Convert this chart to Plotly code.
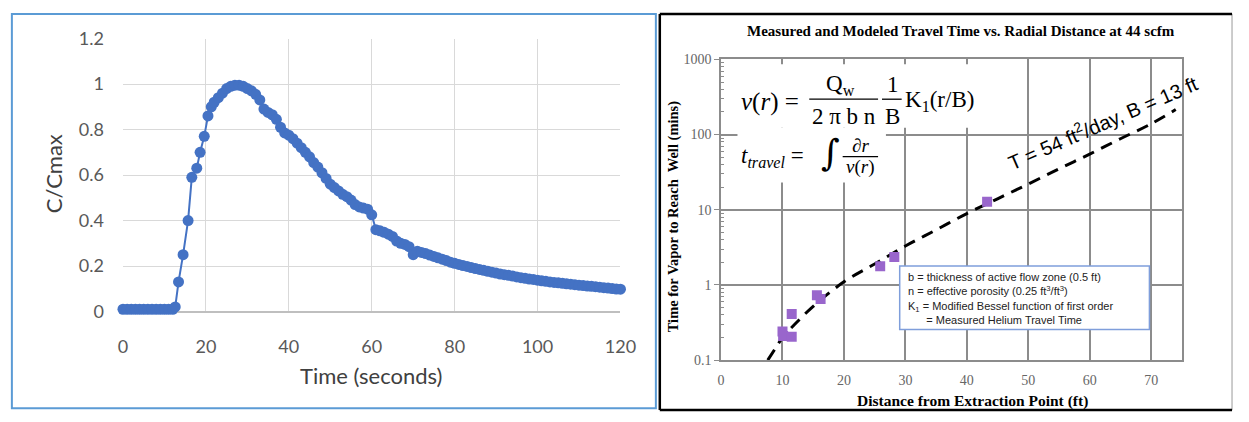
import plotly.graph_objects as go

W, H = 1249, 422

def px(x):
    return x / W

def py(y):
    return 1 - y / H

# ---------------- Left panel data: C/Cmax vs Time ----------------
time_s = [0, 1, 2, 3, 4, 5, 6, 7, 8, 9, 10, 11, 12, 12.6,
          13.4, 14.5, 15.7, 16.6, 17.8, 18.6, 19.6, 20.5, 21.3,
          22, 23, 24, 25, 26, 27, 28, 29, 30, 31, 32, 33, 34, 35, 36, 37, 38, 39,
          40, 41, 42, 43, 44, 45, 46, 47, 48, 49, 50, 51, 52, 53, 54, 55, 56, 57,
          58, 59, 60, 61, 62, 63, 64, 65, 66, 67, 68, 69, 70, 71, 72, 73, 74, 75,
          76, 77, 78, 79, 80, 81, 82, 83, 84, 85, 86, 87, 88, 89, 90, 91, 92, 93,
          94, 95, 96, 97, 98, 99, 100, 101, 102, 103, 104, 105, 106, 107, 108,
          109, 110, 111, 112, 113, 114, 115, 116, 117, 118, 119, 120]
c_over_cmax = [0.01, 0.01, 0.01, 0.01, 0.01, 0.01, 0.01, 0.01, 0.01, 0.01, 0.01, 0.01, 0.01, 0.02,
               0.13, 0.25, 0.40, 0.59, 0.63, 0.70, 0.77, 0.86, 0.90,
               0.92, 0.94, 0.96, 0.98, 0.99, 0.995, 0.995, 0.99, 0.98, 0.97, 0.955, 0.93, 0.89,
               0.875, 0.865, 0.845, 0.81, 0.785,
               0.775, 0.76, 0.74, 0.72, 0.70, 0.68, 0.655, 0.635, 0.61, 0.585, 0.56, 0.545,
               0.53, 0.515, 0.505, 0.49, 0.47, 0.46,
               0.455, 0.45, 0.425, 0.36, 0.355, 0.348, 0.34, 0.33, 0.31, 0.30, 0.295, 0.285,
               0.25, 0.265, 0.26, 0.255, 0.248, 0.242,
               0.236, 0.23, 0.224, 0.217, 0.212, 0.207, 0.202, 0.198, 0.193, 0.189, 0.185,
               0.181, 0.177, 0.173, 0.169, 0.165, 0.162, 0.159,
               0.156, 0.152, 0.149, 0.146, 0.143, 0.141, 0.138, 0.135, 0.133, 0.13, 0.128,
               0.126, 0.124, 0.122, 0.12,
               0.118, 0.116, 0.114, 0.112, 0.111, 0.109, 0.107, 0.105, 0.103, 0.101, 0.099, 0.098]
left_xticks = [0, 20, 40, 60, 80, 100, 120]
left_yticks = [0, 0.2, 0.4, 0.6, 0.8, 1.0, 1.2]
left_yticktext = ["0", "0.2", "0.4", "0.6", "0.8", "1", "1.2"]

# ---------------- Right panel data ----------------
measured_dist_ft = [10.0, 10.1, 11.5, 11.5, 15.6, 16.2, 25.9, 28.2, 43.3]
measured_time_min = [0.24, 0.21, 0.205, 0.41, 0.73, 0.65, 1.78, 2.35, 12.8]
model_dist_ft = [7.6, 9, 10, 12, 15, 20, 25, 30, 35, 40, 45, 50, 55, 60, 65, 70, 74]
model_time_min = [0.1, 0.15, 0.2, 0.3, 0.52, 1.1, 1.9, 3.3, 5.4, 8.9, 14, 22, 35, 55, 88, 139, 215]
right_xticks = [0, 10, 20, 30, 40, 50, 60, 70]
right_yticks = [0.1, 1, 10, 100, 1000]
right_yticktext = ["0.1", "1", "10", "100", "1000"]
right_yminor = [m * d for d in [0.1, 1, 10, 100] for m in range(2, 10)]

fig = go.Figure()

fig.add_trace(go.Scatter(
    x=time_s, y=c_over_cmax, mode="lines+markers",
    line=dict(color="#4472C4", width=2),
    marker=dict(color="#4472C4", size=11),
    cliponaxis=False, showlegend=False, xaxis="x", yaxis="y"))

fig.add_trace(go.Scatter(
    x=model_dist_ft, y=model_time_min, mode="lines",
    line=dict(color="black", width=3, dash="12px,8px", shape="spline"),
    showlegend=False, xaxis="x2", yaxis="y2"))

fig.add_trace(go.Scatter(
    x=measured_dist_ft, y=measured_time_min, mode="markers",
    marker=dict(color="#9966CC", size=10, symbol="square"),
    showlegend=False, xaxis="x2", yaxis="y2"))

serif = "Liberation Serif"
sans = "Lato"

fig.update_layout(
    width=W, height=H, margin=dict(l=0, r=0, t=0, b=0),
    paper_bgcolor="white", plot_bgcolor="white",
    xaxis=dict(domain=[px(120), px(626)], range=[0, 120], tickvals=left_xticks,
               showgrid=True, gridcolor="#D9D9D9", gridwidth=1, zeroline=False,
               showline=False, ticks="", ticklabelstandoff=22,
               tickfont=dict(family=sans, size=18, color="#595959")),
    yaxis=dict(domain=[py(316), py(28)], range=[0, 1.2], tickvals=left_yticks,
               ticktext=left_yticktext,
               showgrid=True, gridcolor="#D9D9D9", gridwidth=1, zeroline=True,
               zerolinecolor="#BFBFBF", zerolinewidth=1.5,
               showline=False, ticks="", ticklabelstandoff=18,
               tickfont=dict(family=sans, size=18, color="#595959")),
    xaxis2=dict(domain=[px(728.3), px(1197)], range=[0, 75], tickvals=right_xticks,
                anchor="y2", showgrid=True, gridcolor="#8C8C8C", gridwidth=1.5,
                zeroline=False, showline=True, mirror=True, linecolor="#8C8C8C",
                linewidth=1.5, ticks="", ticklabelstandoff=6,
                tickfont=dict(family=serif, size=14, color="#666666")),
    yaxis2=dict(domain=[py(367.3), py(50)], type="log", range=[-1, 3],
                tickmode="array", tickvals=right_yticks, ticktext=right_yticktext,
                anchor="x2", showgrid=True, gridcolor="#8C8C8C", gridwidth=1.5,
                zeroline=False, showline=True, mirror=True, linecolor="#8C8C8C",
                linewidth=1.5, ticks="outside", ticklen=5, tickcolor="#8C8C8C",
                minor=dict(tickmode="array", tickvals=right_yminor, ticks="inside",
                           ticklen=3, tickcolor="#8C8C8C", showgrid=False),
                tickfont=dict(family=serif, size=14, color="#666666")),
)

shapes = []
# panel borders
shapes.append(dict(type="rect", xref="paper", yref="paper", x0=px(7), x1=px(662),
                   y0=py(418), y1=py(2), line=dict(color="#5B9BD5", width=2)))
shapes.append(dict(type="line", xref="paper", yref="paper", x0=px(1248), x1=px(1248),
                   y0=py(420), y1=py(2), line=dict(color="#999999", width=1)))
for (x0, y0, x1, y1) in [(666, 2, 1248, 2), (666, 420, 1248, 420), (666, 2, 666, 420)]:
    shapes.append(dict(type="line", xref="paper", yref="paper", x0=px(x0), x1=px(x1),
                       y0=py(y0), y1=py(y1), line=dict(color="black", width=2.5)))
# white backgrounds behind the equations
shapes.append(dict(type="rect", xref="paper", yref="paper", x0=px(745), x1=px(1005),
                   y0=py(122), y1=py(55), fillcolor="white", line=dict(width=0), layer="above"))
shapes.append(dict(type="rect", xref="paper", yref="paper", x0=px(745), x1=px(896),
                   y0=py(180), y1=py(122), fillcolor="white", line=dict(width=0), layer="above"))
# fraction bars
for (x0, x1, y) in [(818, 888, 92), (892, 912, 92), (852, 888, 152.5)]:
    shapes.append(dict(type="line", xref="paper", yref="paper", x0=px(x0), x1=px(x1),
                       y0=py(y), y1=py(y), line=dict(color="black", width=1.3), layer="above"))
# parameter box
shapes.append(dict(type="rect", xref="paper", yref="paper", x0=px(910), x1=px(1164),
                   y0=py(335), y1=py(268), fillcolor="white",
                   line=dict(color="#7F9EDB", width=1.5), layer="above"))
fig.update_layout(shapes=shapes)

ann = []

def add_text(text, x, y, size, family, color="black", xanchor="center", yanchor="middle",
             angle=0, align="center"):
    ann.append(dict(text=text, x=px(x), y=py(y), xref="paper", yref="paper",
                    xanchor=xanchor, yanchor=yanchor, showarrow=False, textangle=angle,
                    align=align, font=dict(family=family, size=size, color=color)))

# left panel titles
add_text("Time (seconds)", 372, 384, 22, sans, "#404040")
add_text("C/Cmax", 49, 171, 22, sans, "#404040", angle=-90)

# right panel titles
add_text("<b>Measured and Modeled Travel Time vs. Radial Distance at 44 scfm</b>",
         972, 20, 15, serif)
add_text("<b>Distance from Extraction Point (ft)</b>", 984, 410, 15.5, serif)
add_text("<b>Time for Vapor to Reach  Well (mins)</b>", 680, 216, 14.5, serif, angle=-90)

# equation 1
add_text("<i>v</i>(<i>r</i>) =", 747, 95, 25, serif, xanchor="left")
add_text("Q<sub>w</sub>", 850, 77, 23, serif)
add_text("2 π b n", 853, 110, 23, serif)
add_text("1", 903, 77, 23, serif)
add_text("B", 903, 110, 23, serif)
add_text("K<sub>1</sub>(r/B)", 913, 94, 23, serif, xanchor="left")
# equation 2
add_text("<i>t<sub>travel</sub></i> =", 747, 153, 23, serif, xanchor="left")
add_text("∫", 840, 148, 36, "DejaVu Serif")
add_text("<i>∂r</i>", 870, 141, 19, serif)
add_text("<i>v</i>(<i>r</i>)", 870, 164, 19, serif)

# model annotation
add_text("T = 54 ft<sup>2</sup>/day, B = 13 ft", 1116, 115, 20, "Liberation Sans",
         angle=-23.5)

# parameter box text
add_text("b = thickness of active flow zone (0.5 ft)<br>"
         "n = effective porosity (0.25 ft<sup>3</sup>/ft<sup>3</sup>)<br>"
         "K<sub>1</sub> = Modified Bessel function of first order<br>"
         "      = Measured Helium Travel Time",
         916, 302, 11, "Liberation Sans", "#222222", xanchor="left", align="left")

fig.update_layout(annotations=ann)

fig.write_html("out.html")
